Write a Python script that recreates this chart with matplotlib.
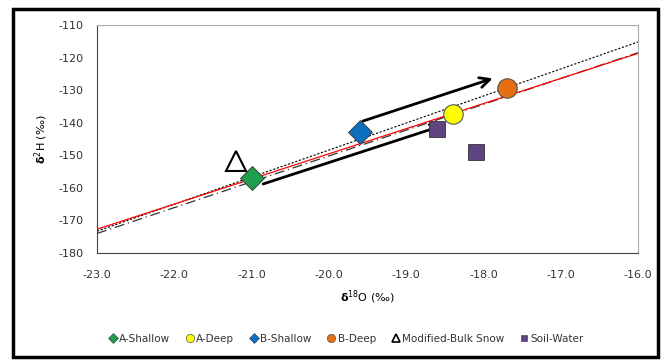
import matplotlib
matplotlib.use('Agg')
import matplotlib.pyplot as plt
from matplotlib.patches import Rectangle
from matplotlib.lines import Line2D

# sample points (d18O, d2H)
a_shallow_x = [-21.0]
a_shallow_y = [-157.0]
a_deep_x = [-18.4]
a_deep_y = [-137.3]
b_shallow_x = [-19.6]
b_shallow_y = [-143.0]
b_deep_x = [-17.7]
b_deep_y = [-129.2]
snow_x = [-21.2]
snow_y = [-151.8]
soil_x = [-18.6, -18.1]
soil_y = [-142.0, -149.0]

# fitted lines, end points
line_x = [-23.0, -16.0]
red_y = [-172.7, -118.7]
dash_y = [-174.0, -118.5]
dot_y = [-173.3, -115.2]

# arrows (start x, start y, end x, end y)
arrow_upper = [-19.56, -139.5, -17.88, -126.4]
arrow_lower = [-20.85, -158.8, -18.52, -140.8]

xticks = [-23.0, -22.0, -21.0, -20.0, -19.0, -18.0, -17.0, -16.0]
yticks = [-110, -120, -130, -140, -150, -160, -170, -180]

plt.rcParams['font.family'] = ['DejaVu Sans']
plt.rcParams['axes.unicode_minus'] = False

fig = plt.figure(figsize=(6.7, 3.6), dpi=100)
ax = fig.add_axes([97 / 670, 1 - 253 / 360, (638 - 97) / 670, (253 - 25) / 360])

ax.plot(line_x, dot_y, color='black', lw=0.8, linestyle=(0, (2, 1.5)), zorder=2)
ax.plot(line_x, dash_y, color='#333333', lw=0.9, linestyle=(0, (8, 3, 1, 3)), zorder=2)
ax.plot(line_x, red_y, color='red', lw=0.9, zorder=3)

for a in (arrow_upper, arrow_lower):
    ax.annotate('', xy=(a[2], a[3]), xytext=(a[0], a[1]),
                arrowprops=dict(arrowstyle='->', lw=2, color='black',
                                mutation_scale=18, shrinkA=0, shrinkB=0), zorder=4)

ax.plot(a_shallow_x, a_shallow_y, 'D', ms=12, mfc='#1f9e4e', mec='#333333', mew=0.6, zorder=5)
ax.plot(a_deep_x, a_deep_y, 'o', ms=14, mfc='#ffff00', mec='#555555', mew=0.8, zorder=5)
ax.plot(b_shallow_x, b_shallow_y, 'D', ms=12, mfc='#0f6fbf', mec='#333333', mew=0.6, zorder=5)
ax.plot(b_deep_x, b_deep_y, 'o', ms=14, mfc='#e66f13', mec='#555555', mew=0.8, zorder=5)
ax.plot(snow_x, snow_y, '^', ms=14, mfc='white', mec='black', mew=1.5, zorder=5)
ax.plot(soil_x, soil_y, 's', ms=11, mfc='#5e4480', mec='#333333', mew=0.6, zorder=5)

ax.set_xlim(-23, -16)
ax.set_ylim(-180, -110)
ax.set_xticks(xticks)
ax.set_xticklabels([f'{v:.1f}' for v in xticks])
ax.set_yticks(yticks)
ax.tick_params(length=0, labelsize=8, colors='#333333')
ax.tick_params(axis='x', pad=12)
ax.tick_params(axis='y', pad=10)

ax.spines['left'].set_color('#444444')
ax.spines['bottom'].set_color('#444444')
ax.spines['top'].set_color('#aaaaaa')
ax.spines['right'].set_color('#aaaaaa')

ax.set_xlabel(r'$\mathbf{\delta}^{18}$O (‰)', fontsize=8, labelpad=6)
ax.set_ylabel(r'$\mathbf{\delta}^{2}$H (‰)', fontsize=8, labelpad=6)

handles = [
    Line2D([], [], marker='D', ls='', ms=5, mfc='#1f9e4e', mec='#333333', mew=0.4),
    Line2D([], [], marker='o', ls='', ms=6, mfc='#ffff00', mec='#555555', mew=0.5),
    Line2D([], [], marker='D', ls='', ms=5, mfc='#0f6fbf', mec='#333333', mew=0.4),
    Line2D([], [], marker='o', ls='', ms=6, mfc='#e66f13', mec='#555555', mew=0.5),
    Line2D([], [], marker='^', ls='', ms=6, mfc='white', mec='black', mew=1.2),
    Line2D([], [], marker='s', ls='', ms=5, mfc='#5e4480', mec='#333333', mew=0.4),
]
labels = ['A-Shallow', 'A-Deep', 'B-Shallow', 'B-Deep', 'Modified-Bulk Snow', 'Soil-Water']
fig.legend(handles, labels, loc='center', bbox_to_anchor=(345 / 670, 1 - 339 / 360),
           ncol=6, frameon=False, fontsize=7.5, handletextpad=0.0, columnspacing=1.3,
           handlelength=1.2, labelcolor='#333333')

fig.patches.append(Rectangle((13 / 670, 3 / 360), (658 - 13) / 670, (351 - 3) / 360,
                             transform=fig.transFigure, fill=False,
                             edgecolor='black', lw=2.5))

fig.savefig('out.png', dpi=100)
